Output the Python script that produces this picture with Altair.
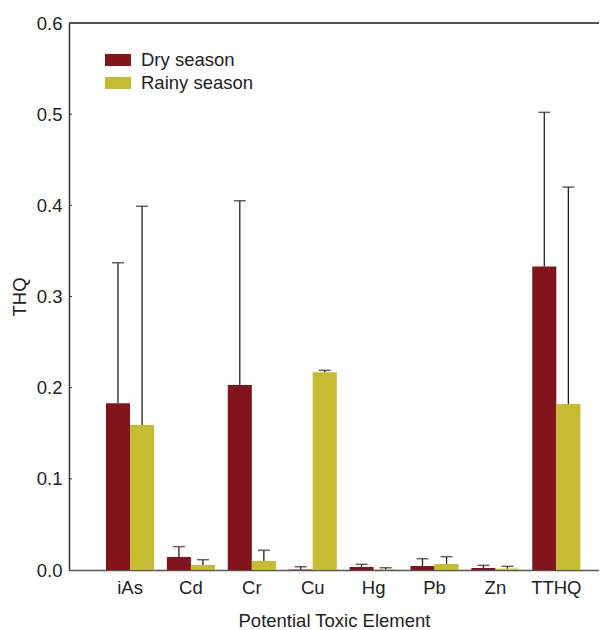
import altair as alt
import pandas as pd

elements = ["iAs", "Cd", "Cr", "Cu", "Hg", "Pb", "Zn", "TTHQ"]
seasons = ["Dry season", "Rainy season"]
dry_mean = [0.183, 0.0143, 0.203, 0.0005, 0.0033, 0.0044, 0.0022, 0.333]
dry_sd = [0.154, 0.0113, 0.202, 0.0031, 0.0029, 0.0080, 0.0029, 0.169]
rainy_mean = [0.159, 0.0055, 0.0099, 0.217, 0.0007, 0.0066, 0.0015, 0.182]
rainy_sd = [0.240, 0.0058, 0.0117, 0.0020, 0.0018, 0.0080, 0.0025, 0.238]
y_ticks = [0.0, 0.1, 0.2, 0.3, 0.4, 0.5, 0.6]
colors = ["#82151b", "#c5bc31"]

rows = []
for i, el in enumerate(elements):
    rows.append({"element": el, "season": seasons[0], "thq": dry_mean[i], "upper": dry_mean[i] + dry_sd[i]})
    rows.append({"element": el, "season": seasons[1], "thq": rainy_mean[i], "upper": rainy_mean[i] + rainy_sd[i]})
df = pd.DataFrame(rows)

W, H = 530, 547
FONT = "Liberation Sans"
FS = 18.5

xscale = alt.Scale(paddingInner=0.21, paddingOuter=0.4565, align=0.665)
yscale = alt.Scale(domain=[0, 0.6], nice=False, zero=True)
xoff = alt.XOffset("season:N", sort=seasons, scale=alt.Scale(paddingInner=0, paddingOuter=0))

x_enc = alt.X(
    "element:N", sort=elements, scale=xscale, title="Potential Toxic Element",
    axis=alt.Axis(labelAngle=0, ticks=False, domainColor="#555555", domainWidth=1.5,
                  labelPadding=8, titlePadding=15, labelFontSize=FS, titleFontSize=FS,
                  labelColor="#222222", titleColor="#222222", labelFont=FONT, titleFont=FONT,
                  titleFontWeight="normal"),
)
y_enc = alt.Y(
    "thq:Q", scale=yscale, title="THQ",
    axis=alt.Axis(values=y_ticks, format=".1f", ticks=False, grid=False, domainColor="#333333",
                  domainWidth=1.5, labelPadding=7, titlePadding=7, labelFontSize=FS,
                  titleFontSize=FS, labelColor="#222222", titleColor="#222222",
                  labelFont=FONT, titleFont=FONT, titleFontWeight="normal"),
)

base = alt.Chart(df)

bars = base.mark_bar().encode(
    x=x_enc,
    xOffset=xoff,
    y=y_enc,
    color=alt.Color(
        "season:N", sort=seasons, scale=alt.Scale(domain=seasons, range=colors),
        legend=alt.Legend(
            title=None, orient="none", legendX=36, legendY=24, padding=0,
            symbolType="M-1,-0.46H1V0.46H-1Z", symbolSize=676, symbolStrokeWidth=0,
            labelFontSize=FS, labelFont=FONT, labelColor="#222222", labelOffset=10,
            rowPadding=-9.5, symbolOffset=0,
        ),
    ),
)

err = base.mark_rule(color="#222222", strokeWidth=1.3).encode(
    x=alt.X("element:N", sort=elements, scale=xscale),
    xOffset=xoff,
    y=alt.Y("thq:Q", scale=yscale),
    y2="upper:Q",
)

caps = base.mark_tick(color="#222222", thickness=1.5, size=12).encode(
    x=alt.X("element:N", sort=elements, scale=xscale),
    xOffset=xoff,
    y=alt.Y("upper:Q", scale=yscale),
)

tick_df = pd.DataFrame({"v": y_ticks[1:-1]})
inner_ticks = alt.Chart(tick_df).mark_rule(color="#333333", strokeWidth=1).encode(
    y=alt.Y("v:Q", scale=yscale),
    x=alt.value(0),
    x2=alt.value(3),
)

top_line = alt.Chart(pd.DataFrame({"v": [0.6]})).mark_rule(color="#222222", strokeWidth=1.5).encode(
    y=alt.Y("v:Q", scale=yscale),
    x=alt.value(0),
    x2=alt.value(W),
)

chart = alt.layer(bars, err, caps, inner_ticks, top_line).properties(
    width=W, height=H,
    autosize=alt.AutoSizeParams(type="none"),
    padding={"left": 61, "top": 15, "right": 0, "bottom": 60},
).configure_view(stroke=None).configure(background="white")

chart.save("out.html", embed_options={"renderer": "svg", "actions": False})
